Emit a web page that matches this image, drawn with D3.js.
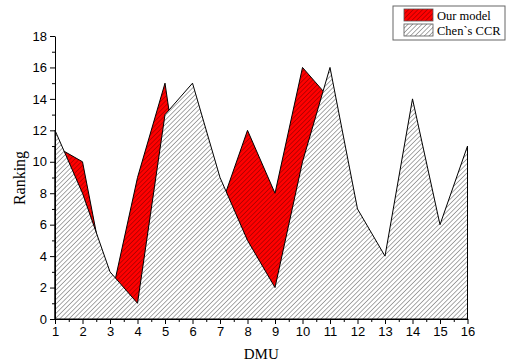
<!DOCTYPE html>
<html>
<head>
<meta charset="utf-8">
<script src="https://cdn.jsdelivr.net/npm/d3@7"></script>
<style>
  body { margin: 0; background: #fff; }
  svg { display: block; }
</style>
</head>
<body>
<div id="chart"></div>
<script>
// DMU ids and rankings
const dmu = [1, 2, 3, 4, 5, 6, 7, 8, 9, 10, 11, 12, 13, 14, 15, 16];
const ourModel = [11, 10, 1, 9, 15, 3, 7, 12, 8, 16, 14, 5, 2, 13, 4, 6];
const chenCCR = [12, 8, 3, 1, 13, 15, 9, 5, 2, 10, 16, 7, 4, 14, 6, 11];
const yTicks = [0, 2, 4, 6, 8, 10, 12, 14, 16, 18];
const seriesNames = ["Our model", "Chen`s CCR"];

const W = 510, H = 364;
const margin = {top: 36, right: 42.5, bottom: 45, left: 55};

const svg = d3.select("#chart").append("svg")
    .attr("width", W)
    .attr("height", H);

// hatch patterns
const defs = svg.append("defs");
function hatch(id, bg, line, step) {
    const p = defs.append("pattern")
        .attr("id", id)
        .attr("patternUnits", "userSpaceOnUse")
        .attr("width", step)
        .attr("height", step)
        .attr("patternTransform", "rotate(45)");
    p.append("rect").attr("width", step).attr("height", step).attr("fill", bg);
    p.append("line")
        .attr("x1", 0).attr("y1", 0).attr("x2", 0).attr("y2", step)
        .attr("stroke", line).attr("stroke-width", 1.5);
}
hatch("hatchRed", "#ff0000", "#a80000", 3.3);
hatch("hatchGray", "#ffffff", "#8c8c8c", 3.3);

const x = d3.scaleLinear()
    .domain([1, 16])
    .range([margin.left, W - margin.right]);

const y = d3.scaleLinear()
    .domain([0, 18])
    .range([H - margin.bottom, margin.top]);

const area = d3.area()
    .x((d, i) => x(dmu[i]))
    .y0(y(0))
    .y1(d => y(d));

// red series first, Chen's drawn on top of it
svg.append("path")
    .datum(ourModel)
    .attr("d", area)
    .attr("fill", "url(#hatchRed)")
    .attr("stroke", "#000")
    .attr("stroke-width", 1);

svg.append("path")
    .datum(chenCCR)
    .attr("d", area)
    .attr("fill", "url(#hatchGray)")
    .attr("stroke", "#000")
    .attr("stroke-width", 1);

// X axis with minor ticks
const xMinor = dmu.slice(0, -1).map(d => d + 0.5);
svg.append("g")
    .attr("transform", `translate(0,${y(0)})`)
    .call(d3.axisBottom(x).tickValues(xMinor).tickSize(3).tickFormat(""))
    .call(g => g.select(".domain").remove());
svg.append("g")
    .attr("class", "axis")
    .attr("transform", `translate(0,${y(0)})`)
    .call(d3.axisBottom(x).tickValues(dmu).tickSize(5).tickSizeOuter(0).tickFormat(d3.format("d")));

// Y axis with minor ticks
const yMinor = yTicks.slice(0, -1).map(d => d + 1);
svg.append("g")
    .attr("transform", `translate(${x(1)},0)`)
    .call(d3.axisLeft(y).tickValues(yMinor).tickSize(3).tickFormat(""))
    .call(g => g.select(".domain").remove());
svg.append("g")
    .attr("class", "axis")
    .attr("transform", `translate(${x(1)},0)`)
    .call(d3.axisLeft(y).tickValues(yTicks).tickSize(5).tickSizeOuter(0));

svg.selectAll(".tick line").attr("stroke", "#000");
svg.selectAll(".domain").attr("stroke", "#000");
svg.selectAll(".axis text")
    .style("font-family", "'Liberation Sans', Arial, sans-serif")
    .style("font-size", "13px")
    .attr("fill", "#000");

// axis labels
svg.append("text")
    .attr("x", (x(1) + x(16)) / 2)
    .attr("y", 359)
    .attr("text-anchor", "middle")
    .style("font-family", "'Liberation Serif', 'Times New Roman', serif")
    .style("font-size", "15px")
    .text("DMU");

svg.append("text")
    .attr("transform", "rotate(-90)")
    .attr("x", -178)
    .attr("y", 25)
    .attr("text-anchor", "middle")
    .style("font-family", "'Liberation Serif', 'Times New Roman', serif")
    .style("font-size", "16px")
    .text("Ranking");

// legend
const legend = svg.append("g").attr("transform", "translate(393,6)");
legend.append("rect")
    .attr("width", 112)
    .attr("height", 34)
    .attr("fill", "#fff")
    .attr("stroke", "#666");
["url(#hatchRed)", "url(#hatchGray)"].forEach((fill, i) => {
    legend.append("rect")
        .attr("x", 11)
        .attr("y", 3 + i * 15)
        .attr("width", 29)
        .attr("height", 12)
        .attr("fill", fill)
        .attr("stroke", "#555")
        .attr("stroke-width", 0.8);
    legend.append("text")
        .attr("x", 44)
        .attr("y", 14 + i * 15)
        .style("font-family", "'Liberation Serif', 'Times New Roman', serif")
        .style("font-size", "12.5px")
        .text(seriesNames[i]);
});
</script>
</body>
</html>
